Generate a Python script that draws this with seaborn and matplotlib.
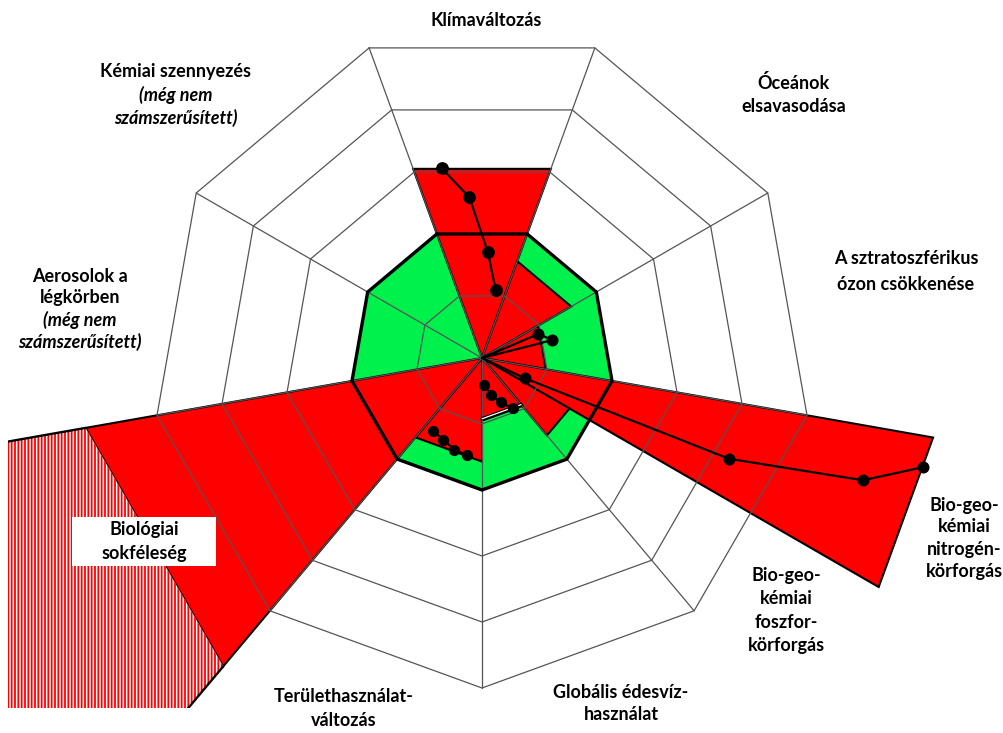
import numpy as np
import pandas as pd
import matplotlib
matplotlib.use("Agg")
import matplotlib.pyplot as plt
import seaborn as sns
from matplotlib.patches import Polygon, Rectangle

# ---------------- data ----------------
# nine grid sectors (the bio-geo-chemical sector is split into nitrogen / phosphorus)
sector_names = ["Klímaváltozás", "Óceánok elsavasodása", "Ózon", "Bio-geo-kémiai",
                "Édesvíz", "Területhasználat", "Biológiai sokféleség", "Aerosolok", "Kémiai szennyezés"]
ring_levels = [1, 2, 3, 4, 5]          # grid rings (boundary = ring 2)
boundary_level = 2

# current state wedges (value in ring units)
wedge_names  = ["Klíma", "Óceán", "Ózon", "Nitrogén", "Foszfor", "Édesvíz", "Terület", "Biodiverzitás"]
wedge_sector = [0, 1, 2, 3, 3, 4, 5, 6]
wedge_from   = [0.0, 0.0, 0.0, 0.0, 0.5, 0.0, 0.0, 0.0]
wedge_to     = [1.0, 1.0, 1.0, 0.5, 1.0, 1.0, 1.0, 1.0]
wedge_value  = [3.05, 1.56, 0.98, 6.94, 1.53, 0.95, 1.57, 6.10]

# historical trend lines (position inside sector, value)
climate_pos = [0.785, 0.578, 0.388, 0.20]
climate_val = [1.05, 1.61, 2.44, 2.94]
ozone_pos = [0.173, 0.393]
ozone_val = [0.93, 1.10]
nitrogen_pos = [0.383, 0.305, 0.195, 0.098]
nitrogen_val = [0.72, 4.04, 6.06, 6.88]
water_pos = [0.895, 0.653, 0.433, 0.203]
water_val = [0.41, 0.57, 0.73, 0.90]
land_pos = [0.845, 0.633, 0.423, 0.225]
land_val = [1.33, 1.37, 1.45, 1.49]

# ---------------- style ----------------
sns.set_theme(style="white")
plt.rcParams["font.family"] = ["Lato", "DejaVu Sans"]
plt.rcParams["hatch.linewidth"] = 1.3

RED = "#FF0000"
GREEN = "#00F04C"
GRID = "#555555"

CX, CY, U = 482, 358, 66.0   # pixel centre and pixels per ring
W, H = 1004, 733

fig = plt.figure(figsize=(W / 100, H / 100), dpi=100)
ax = fig.add_axes([0, 0, 1, 1])


def px(x, y):
    return (x - CX) / U, (CY - y) / U


def ang(sector, frac):
    return np.deg2rad(110 - 40 * sector - 40 * np.asarray(frac, dtype=float))


def pol(a, r):
    return np.asarray(r) * np.cos(a), np.asarray(r) * np.sin(a)


nsec = len(sector_names)
edge_angles = ang(np.arange(nsec + 1), 0)

# green safe operating space
gx, gy = pol(edge_angles, boundary_level)
ax.fill(gx, gy, color=GREEN, lw=0, zorder=1)

# red wedges
for s, f0, f1, v in zip(wedge_sector, wedge_from, wedge_to, wedge_value):
    a0, a1 = ang(s, f0), ang(s, f1)
    x0, y0 = pol(a0, v)
    x1, y1 = pol(a1, v)
    ax.fill([0, x0, x1], [0, y0, y1], facecolor=RED, edgecolor="black", lw=1.5, zorder=2,
            joinstyle="miter")

# hatched continuation of biodiversity wedge
bi = wedge_names.index("Biodiverzitás")
a0, a1 = ang(wedge_sector[bi], 0), ang(wedge_sector[bi], 1)
v = wedge_value[bi]
far = 40
hx = [pol(a0, v)[0], pol(a1, v)[0], pol(a1, far)[0], pol(a0, far)[0]]
hy = [pol(a0, v)[1], pol(a1, v)[1], pol(a1, far)[1], pol(a0, far)[1]]
clip_x0, clip_y0 = px(8, 708)
clip = Rectangle((clip_x0, clip_y0), 20, 20, transform=ax.transData, fill=False, lw=0)
hp = Polygon(np.column_stack([hx, hy]), closed=True, facecolor="white", edgecolor=RED,
             hatch="|||||", lw=0, zorder=2)
ax.add_patch(hp)
hp.set_clip_path(clip)
for a in (a0, a1):
    ln, = ax.plot(*pol(a, np.array([v, far])), color="black", lw=1.7, zorder=3)
    ln.set_clip_path(clip)

# grid rings and spokes
for r in ring_levels:
    rx, ry = pol(edge_angles, r)
    ax.plot(rx, ry, color=GRID, lw=0.9, zorder=3)
for a in edge_angles[:-1]:
    ax.plot(*pol(a, np.array([0, ring_levels[-1]])), color=GRID, lw=0.9, zorder=3)

# boundary outline
ax.plot(gx, gy, color="black", lw=2.4, zorder=4, solid_joinstyle="miter")

# freshwater outer edge: thin white line
wi = wedge_names.index("Édesvíz")
wx, wy = pol(ang(wedge_sector[wi], [0, 1]), wedge_value[wi] * 0.97)
ax.plot(wx, wy, color="black", lw=2.6, zorder=4)
ax.plot(wx, wy, color="white", lw=0.9, zorder=4)


# trend lines
def trend(sector, pos, val, start_centre=False, end_centre=False, ms=55):
    x, y = pol(ang(sector, pos), val)
    lx, ly = list(x), list(y)
    if start_centre:
        lx, ly = [0] + lx, [0] + ly
    if end_centre:
        lx, ly = lx + [0], ly + [0]
    dfl = pd.DataFrame({"x": lx, "y": ly})
    sns.lineplot(data=dfl, x="x", y="y", sort=False, estimator=None, color="black",
                 lw=1.6, ax=ax, zorder=5)
    dfp = pd.DataFrame({"x": x, "y": y})
    sns.scatterplot(data=dfp, x="x", y="y", color="black", s=ms, edgecolor="black",
                    linewidth=0, ax=ax, zorder=6, legend=False)


trend(0, climate_pos, climate_val, ms=85)
trend(2, ozone_pos, ozone_val, start_centre=True, end_centre=True, ms=75)
trend(3, nitrogen_pos, nitrogen_val, start_centre=True, ms=75)
trend(4, water_pos, water_val, ms=65)
trend(5, land_pos, land_val, ms=65)
ax.set_xlim(-CX / U, (W - CX) / U)
ax.set_ylim(-(H - CY) / U, CY / U)
ax.axis("off")

# ---------------- labels ----------------
FS = 13


def label(x, y, lines, italic_from=None):
    for i, (yy, t) in enumerate(zip(y, lines)):
        style = "italic" if (italic_from is not None and i >= italic_from) else "normal"
        ax.text(*px(x, yy), t, ha="center", va="center", fontsize=FS, fontweight="bold",
                fontstyle=style, color="black", zorder=10)


label(486, [21], ["Klímaváltozás"])
label(176, [71, 95, 118], ["Kémiai szennyezés", "(még nem", "számszerűsített)"], italic_from=1)
label(794, [83, 107], ["Óceánok", "elsavasodása"])
label(906, [259, 284], ["A sztratoszférikus", "ózon csökkenése"])
label(80, [276, 298, 320, 342], ["Aerosolok a", "légkörben", "(még nem", "számszerűsített)"],
      italic_from=2)
label(964, [505, 527, 549, 571], ["Bio-geo-", "kémiai", "nitrogén-", "körforgás"])
label(786, [576, 599, 622, 645], ["Bio-geo-", "kémiai", "foszfor-", "körforgás"])
label(621, [692, 715], ["Globális édesvíz-", "használat"])
label(344, [697, 720], ["Területhasználat-", "változás"])

bx0, by0 = px(72, 566)
bx1, by1 = px(216, 517)
ax.add_patch(Rectangle((bx0, by0), bx1 - bx0, by1 - by0, facecolor="white", edgecolor="none",
                       zorder=9))
label(144, [530, 554], ["Biológiai", "sokféleség"])

fig.savefig("out.png", dpi=100, facecolor="white")
